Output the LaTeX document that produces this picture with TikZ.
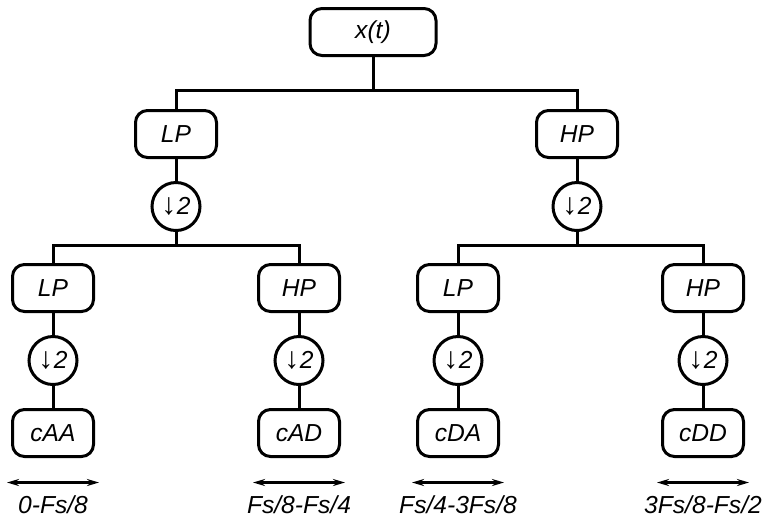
\documentclass[tikz,border=0pt]{standalone}
\usepackage{fontspec}
\setmainfont{Liberation Sans}
\usetikzlibrary{
	positioning,
	calc,
	arrows.meta
}
\tikzset{
	filterbox/.style={
		draw,
		line width=1.5pt,
		rounded corners=6pt,
		minimum width=40.5pt,
		minimum height=23.5pt,
		inner sep=0pt,
		font=\fontsize{12.3}{14}\selectfont\itshape
	},
	downbox/.style={
		draw,
		circle,
		line width=1.5pt,
		minimum size=24pt,
		inner sep=0pt,
		font=\fontsize{12.3}{14}\selectfont\itshape
	},
	branch/.style={line width=1.5pt},
	bandarrow/.style={
		{Stealth[length=6pt,width=3.5pt]}-{Stealth[length=6pt,width=3.5pt]},
		line width=1.2pt
	},
	bandlabel/.style={
		inner sep=0pt,
		font=\fontsize{12.3}{14}\selectfont\itshape
	}
}
\newcommand{\downtwo}{{\fontsize{15}{15}\selectfont\upshape ↓}\kern0.3pt 2}

\begin{document}
\begin{tikzpicture}[x=0.5pt,y=-0.5pt,node distance=11pt]
	\useasboundingbox (0,0) rectangle (764,516);

	% signal
	\node[filterbox, minimum width=63pt] (XT) at (373,32) {x(t)};

	% first level
	\node[filterbox] (LP) at (176,134) {LP};
	\node[filterbox] (HP) at (577,134) {HP};
	\node[downbox, below=of LP] (DL) {\downtwo};
	\node[downbox, below=of HP] (DH) {\downtwo};

	% second level
	\node[filterbox] (LPLP) at (53,288) {LP};
	\node[filterbox] (LPHP) at (299,288) {HP};
	\node[filterbox] (HPLP) at (458,288) {LP};
	\node[filterbox] (HPHP) at (703,288) {HP};
	\node[downbox, below=of LPLP] (DLL) {\downtwo};
	\node[downbox, below=of LPHP] (DLH) {\downtwo};
	\node[downbox, below=of HPLP] (DHL) {\downtwo};
	\node[downbox, below=of HPHP] (DHH) {\downtwo};

	% coefficients
	\node[filterbox, below=of DLL] (CAA) {cAA};
	\node[filterbox, below=of DLH] (CAD) {cAD};
	\node[filterbox, below=of DHL] (CDA) {cDA};
	\node[filterbox, below=of DHH] (CDD) {cDD};

	% tree
	\coordinate (J0) at (373,90);
	\coordinate (JL) at (176,245);
	\coordinate (JH) at (577,245);
	\draw[branch] (XT.south) -- (J0);
	\draw[branch] (LP.north) |- (J0) -| (HP.north);
	\draw[branch] (LP) -- (DL);
	\draw[branch] (HP) -- (DH);
	\draw[branch] (DL) -- (JL);
	\draw[branch] (DH) -- (JH);
	\draw[branch] (LPLP.north) |- (JL) -| (LPHP.north);
	\draw[branch] (HPLP.north) |- (JH) -| (HPHP.north);
	\draw[branch] (LPLP) -- (DLL);
	\draw[branch] (LPHP) -- (DLH);
	\draw[branch] (HPLP) -- (DHL);
	\draw[branch] (HPHP) -- (DHH);
	\draw[branch] (DLL) -- (CAA);
	\draw[branch] (DLH) -- (CAD);
	\draw[branch] (DHL) -- (CDA);
	\draw[branch] (DHH) -- (CDD);

	% frequency bands
	\coordinate (BAAl) at ($(CAA.south west)+(-4,24.5)$);
	\coordinate (BAAr) at ($(CAA.south east)+(4,24.5)$);
	\coordinate (BADl) at ($(CAD.south west)+(-4,24.5)$);
	\coordinate (BADr) at ($(CAD.south east)+(4,24.5)$);
	\coordinate (BDAl) at ($(CDA.south west)+(-4,24.5)$);
	\coordinate (BDAr) at ($(CDA.south east)+(4,24.5)$);
	\coordinate (BDDl) at ($(CDD.south west)+(-4,24.5)$);
	\coordinate (BDDr) at ($(CDD.south east)+(4,24.5)$);
	\draw[bandarrow] (BAAl) -- (BAAr);
	\draw[bandarrow] (BADl) -- (BADr);
	\draw[bandarrow] (BDAl) -- (BDAr);
	\draw[bandarrow] (BDDl) -- (BDDr);

	\node[bandlabel] (LAA) at ($(BAAl)!0.5!(BAAr)+(0,22)$) {0-Fs/8};
	\node[bandlabel] (LAD) at ($(BADl)!0.5!(BADr)+(0,22)$) {Fs/8-Fs/4};
	\node[bandlabel] (LDA) at ($(BDAl)!0.5!(BDAr)+(0,22)$) {Fs/4-3Fs/8};
	\node[bandlabel] (LDD) at ($(BDDl)!0.5!(BDDr)+(0,22)$) {3Fs/8-Fs/2};
\end{tikzpicture}
\end{document}
